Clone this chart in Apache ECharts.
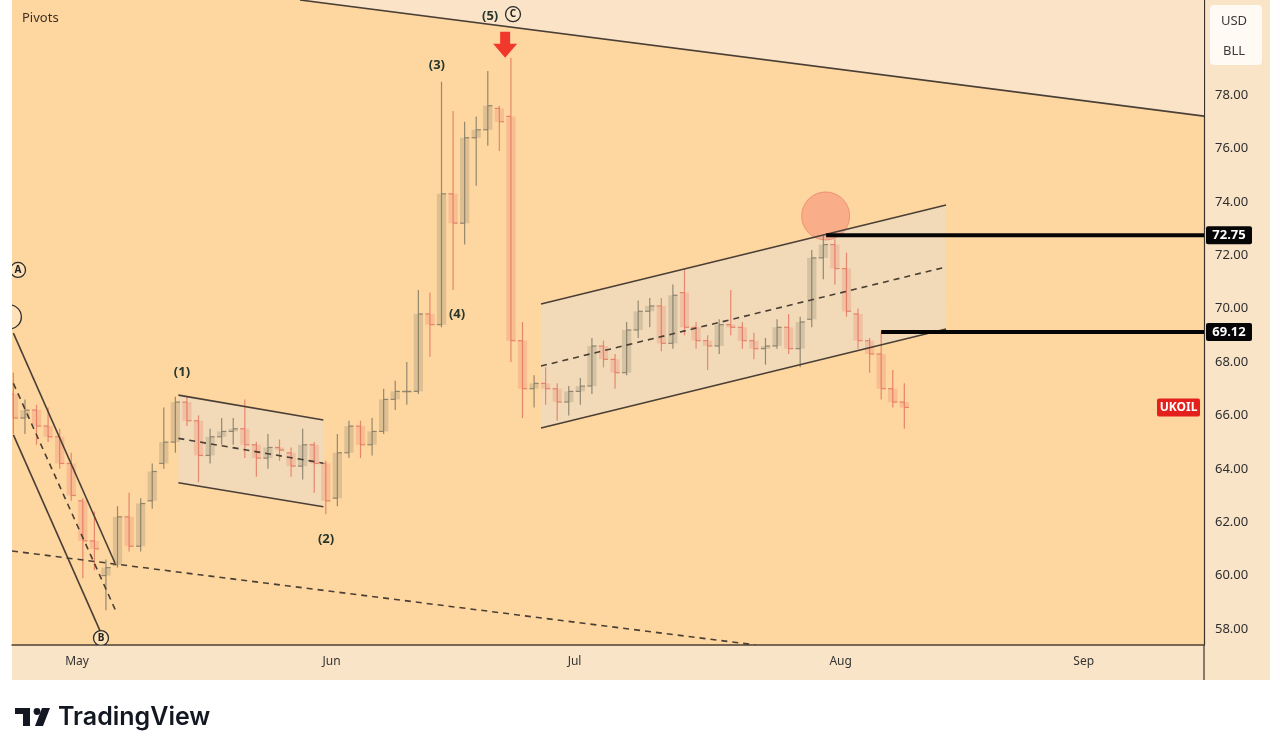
<!DOCTYPE html>
<html><head><meta charset="utf-8">
<script src="https://cdn.jsdelivr.net/npm/echarts@6/dist/echarts.min.js"></script>
<style>
html,body{margin:0;padding:0;background:#fff;width:1280px;height:754px;overflow:hidden}
#panel{position:absolute;left:12px;top:0;width:1258px;height:680px;background:#fae4c8}
#chart{position:absolute;left:0;top:0;width:1280px;height:754px}
</style></head><body>
<div id="panel"></div>
<div id="chart"></div>
<script>
// ---------- DATA ----------
const tradingDays = [
 '2025-04-23','2025-04-24','2025-04-25','2025-04-28','2025-04-29','2025-04-30',
 '2025-05-01','2025-05-02','2025-05-05','2025-05-06','2025-05-07','2025-05-08','2025-05-09','2025-05-12','2025-05-13','2025-05-14','2025-05-15','2025-05-16','2025-05-19','2025-05-20','2025-05-21','2025-05-22','2025-05-23','2025-05-26','2025-05-27','2025-05-28','2025-05-29','2025-05-30',
 '2025-06-02','2025-06-03','2025-06-04','2025-06-05','2025-06-06','2025-06-09','2025-06-10','2025-06-11','2025-06-12','2025-06-13','2025-06-16','2025-06-17','2025-06-18','2025-06-19','2025-06-20','2025-06-23','2025-06-24','2025-06-25','2025-06-26','2025-06-27','2025-06-30',
 '2025-07-01','2025-07-02','2025-07-03','2025-07-04','2025-07-07','2025-07-08','2025-07-09','2025-07-10','2025-07-11','2025-07-14','2025-07-15','2025-07-16','2025-07-17','2025-07-18','2025-07-21','2025-07-22','2025-07-23','2025-07-24','2025-07-25','2025-07-28','2025-07-29','2025-07-30','2025-07-31',
 '2025-08-01','2025-08-04','2025-08-05','2025-08-06','2025-08-07','2025-08-08'
];
const openP  = [66.8,65.9,66.2,65.6,65.2,64.2, 62.8,61.3,60.0,60.4,62.2,61.1,62.8,64.2,65.0,66.5,65.8,64.5,65.2,65.4,65.5,64.9,64.4,64.8,64.6,64.1,64.9,64.2, 62.9,64.6,65.6,64.9,65.4,66.6,66.9,66.9,69.8,69.4,74.3,73.2,76.4,76.7,77.5,77.2,68.8,67.0,67.2,67.0,66.5, 66.9,67.1,68.6,68.1,67.6,69.2,69.9,70.1,68.7,70.6,69.3,68.8,68.6,69.4,69.3,68.8,68.5,68.6,69.3,68.5,69.6,71.9,72.4, 71.5,69.8,68.8,68.3,67.0,66.5];
const highP  = [67.6,66.6,66.4,66.3,65.5,64.6, 62.9,62.4,60.6,62.6,63.1,62.9,64.2,66.3,66.7,66.7,66.0,65.5,65.9,65.9,66.6,65.0,65.3,65.1,64.8,65.5,65.0,64.3, 65.3,65.8,65.8,65.9,67.0,67.3,68.0,70.7,70.6,78.5,77.4,77.0,77.2,78.9,77.6,79.4,69.5,67.5,67.8,67.2,67.1, 67.4,68.9,68.8,68.3,69.5,70.3,70.4,70.4,70.9,71.5,69.5,69.0,69.6,70.7,69.5,69.1,68.9,69.6,69.8,69.7,72.2,72.75,72.6, 72.1,70.0,68.9,69.12,67.7,67.2];
const lowP   = [65.3,65.3,64.9,65.0,64.0,62.8, 59.9,60.2,58.7,60.3,60.9,60.9,62.5,64.0,64.6,65.6,63.5,64.2,64.9,64.9,64.4,63.7,64.0,64.3,63.7,63.6,63.1,62.3, 62.6,64.4,64.4,64.5,65.3,66.2,66.4,66.8,68.2,69.3,70.7,72.4,74.6,76.1,75.9,68.0,65.9,66.3,66.4,65.8,66.0, 66.4,66.8,67.8,67.0,67.5,68.9,69.3,68.4,68.5,69.0,68.5,67.7,68.3,69.0,68.5,68.1,67.9,68.5,68.3,67.8,69.3,71.1,70.9, 69.7,68.5,67.6,66.6,66.3,65.5];
const closeP = [65.9,66.2,65.6,65.2,64.2,63.0, 61.3,61.0,60.3,62.2,61.1,62.7,63.9,65.0,66.5,65.8,64.5,65.2,65.4,65.5,64.9,64.4,64.8,64.7,64.1,64.9,64.2,62.8, 64.6,65.6,64.9,65.4,66.6,66.9,66.9,69.8,69.4,74.3,73.2,76.4,76.7,77.6,77.0,68.8,67.0,67.2,67.0,66.5,66.9, 67.1,68.6,68.1,67.6,69.2,69.9,70.1,68.7,70.5,69.3,68.8,68.6,69.4,69.3,68.8,68.5,68.6,69.3,68.5,69.5,71.9,72.4,71.5, 69.9,68.8,68.3,67.0,66.5,66.3];
const firstDayIndex = -6;              // trading-day number of 2025-04-23 (2025-05-01 = 0)
const monthLabels = ['May','Jun','Jul','Aug','Sep'];
const monthStartIndex = [0, 22, 43, 66, 87];
const priceTicks = [58,60,62,64,66,68,70,72,74,76,78];
const symbolName = 'UKOIL';
const keyLevels = [72.75, 69.12];
const keyLevelStart = [64.74, 69.5];
// trendlines: [dayIndex1, price1, dayIndex2, price2]
const solidLines = [
 [19.27, 81.56, 97.4, 77.21],
 [-5.5, 69.08, 3.28, 60.47],
 [-5.5, 65.27, 1.99, 57.93],
 [8.76, 66.76, 21.29, 65.83],
 [8.76, 63.48, 21.29, 62.58],
 [40.10, 70.17, 75.11, 73.88],
 [40.10, 65.53, 75.11, 69.24]
];
const dashedLines = [
 [-5.5, 67.20, 3.43, 58.60],
 [-5.62, 60.92, 58.66, 57.40],
 [8.76, 65.14, 21.29, 64.21],
 [40.10, 67.85, 75.11, 71.56]
];
// channel fills: [dayIndex1, dayIndex2, top1, top2, bottom1, bottom2]
const channelFills = [
 [8.76, 21.29, 66.76, 65.83, 63.48, 62.58],
 [40.10, 75.11, 70.17, 73.88, 65.53, 69.24]
];
const upperZone = [[19.27, 81.56], [97.4, 77.21], [97.4, 82.5], [19.27, 82.5]];
const waveLabels = ['(1)','(2)','(3)','(4)','(5)'];
const wavePos = [[9.07,67.63],[21.52,61.37],[31.1,79.12],[32.84,69.80],[35.7,80.96]];
const circleLabels = ['A','B','C',''];
const circlePos = [[-5.1,71.45],[2.07,57.66],[37.68,81.03],[-5.85,69.69]];
const highlightPos = [[64.7, 73.47]];
const arrowPos = [[37.0, 79.4]];

// ---------- CHART ----------
const FONT = '"Noto Sans", "DejaVu Sans", sans-serif';
const X0 = -5.62, X1 = 97.4, Y0 = 57.40, Y1 = 81.56;
const LINE_COL = '#4a3f35';
const chart = echarts.init(document.getElementById('chart'), null, {renderer:'canvas'});

const barData = tradingDays.map((d, i) => [i + firstDayIndex, openP[i], highP[i], lowP[i], closeP[i]]);

function renderBar(params, api) {
  const x = api.value(0) + 0.5;
  const o = api.value(1), h = api.value(2), l = api.value(3), c = api.value(4);
  const ph = api.coord([x, h]), pl = api.coord([x, l]), po = api.coord([x, o]), pc = api.coord([x, c]);
  const w = api.size([1, 0])[0];
  const up = c >= o;
  const stroke = up ? 'rgba(122,116,98,0.8)' : 'rgba(226,114,94,0.8)';
  const fill = up ? 'rgba(132,126,106,0.26)' : 'rgba(232,126,104,0.28)';
  const bw = w * 0.8;
  return {type:'group', children:[
    {type:'rect', shape:{x:ph[0]-bw/2, y:Math.min(po[1],pc[1]), width:bw, height:Math.max(1.5, Math.abs(po[1]-pc[1]))}, style:{fill}},
    {type:'line', shape:{x1:ph[0], y1:ph[1], x2:pl[0], y2:pl[1]}, style:{stroke, lineWidth:1.2}},
    {type:'line', shape:{x1:po[0]-bw/2, y1:po[1], x2:po[0], y2:po[1]}, style:{stroke, lineWidth:1.2}},
    {type:'line', shape:{x1:pc[0], y1:pc[1], x2:pc[0]+bw/2, y2:pc[1]}, style:{stroke, lineWidth:1.2}}
  ]};
}
function lineRenderer(dashed) {
  return function(params, api) {
    const a = api.coord([api.value(0), api.value(1)]);
    const b = api.coord([api.value(2), api.value(3)]);
    return {type:'line', shape:{x1:a[0], y1:a[1], x2:b[0], y2:b[1]},
      style:{stroke:LINE_COL, lineWidth:1.6, lineDash: dashed ? [6,5] : null}};
  };
}
function renderFill(params, api) {
  const r = channelFills[params.dataIndex];
  const pts = [api.coord([r[0], r[2]]), api.coord([r[1], r[3]]), api.coord([r[1], r[5]]), api.coord([r[0], r[4]])];
  return {type:'polygon', shape:{points:pts}, style:{fill:'rgba(222,224,228,0.36)'}};
}
function renderZone(params, api) {
  return {type:'polygon', shape:{points: upperZone.map(p => api.coord(p))}, style:{fill:'#fbe3c7'}};
}
function renderWave(params, api) {
  const p = api.coord(wavePos[params.dataIndex]);
  return {type:'text', style:{x:p[0], y:p[1], text:waveLabels[params.dataIndex], fill:'#26362d',
    fontSize:13, fontWeight:'bold', fontFamily:FONT, align:'center', verticalAlign:'middle'}};
}
function renderCircleLabel(params, api) {
  const i = params.dataIndex;
  const p = api.coord(circlePos[i]);
  const r = circleLabels[i] ? 7.5 : 12;
  return {type:'group', children:[
    {type:'circle', shape:{cx:p[0], cy:p[1], r}, style:{fill:'rgba(255,236,205,0.5)', stroke:'#2b2b2b', lineWidth:1.3}},
    {type:'text', style:{x:p[0], y:p[1]+0.5, text:circleLabels[i], fill:'#222', fontSize:10, fontWeight:'bold',
      fontFamily:FONT, align:'center', verticalAlign:'middle'}}
  ]};
}
function renderHighlight(params, api) {
  const p = api.coord(highlightPos[params.dataIndex]);
  return {type:'circle', shape:{cx:p[0], cy:p[1], r:24}, style:{fill:'rgba(244,142,118,0.55)', stroke:'rgba(236,132,108,0.8)', lineWidth:1}};
}
function renderArrow(params, api) {
  const p = api.coord(arrowPos[params.dataIndex]);
  const x = p[0], y = p[1];
  return {type:'polygon', shape:{points:[[x-5,y-26],[x+5,y-26],[x+5,y-14],[x+12,y-14],[x,y],[x-12,y-14],[x-5,y-14]]},
    style:{fill:'#f0392c'}};
}
function renderLevel(params, api) {
  const i = params.dataIndex;
  const p = api.coord([keyLevelStart[i], keyLevels[i]]);
  const right = params.coordSys.x + params.coordSys.width;
  return {type:'group', children:[
    {type:'line', shape:{x1:p[0], y1:p[1], x2:right, y2:p[1]}, style:{stroke:'#050505', lineWidth:4}},
    {type:'rect', shape:{x:right+2, y:p[1]-9, width:46, height:18, r:2}, style:{fill:'#060606'}},
    {type:'text', style:{x:right+25, y:p[1]+0.5, text:keyLevels[i].toFixed(2), fill:'#fff', fontSize:13, fontWeight:'bold',
      fontFamily:FONT, align:'center', verticalAlign:'middle'}}
  ]};
}
function renderTag(params, api) {
  const p = api.coord([api.value(0), api.value(1)]);
  const right = params.coordSys.x + params.coordSys.width;
  return {type:'group', children:[
    {type:'rect', shape:{x:right-47, y:p[1]-9, width:43, height:18, r:2}, style:{fill:'#e3201b'}},
    {type:'text', style:{x:right-25.5, y:p[1]+0.5, text:symbolName, fill:'#fff', fontSize:12, fontWeight:'bold',
      fontFamily:FONT, align:'center', verticalAlign:'middle'}}
  ]};
}

const lastIdx = barData.length - 1;
const option = {
  animation: false,
  backgroundColor: 'transparent',
  textStyle: {fontFamily: FONT},
  grid: {left:12, top:0, width:1192, height:645, show:true, backgroundColor:'#fed6a0', borderWidth:0},
  xAxis: {
    type:'value', min:X0, max:X1,
    axisLine:{show:true, onZero:false, lineStyle:{color:'#4d3f33', width:1.5}},
    axisTick:{show:false}, splitLine:{show:false},
    axisLabel:{customValues: monthStartIndex, formatter: v => { const k = monthStartIndex.indexOf(v); return k >= 0 ? monthLabels[k] : ''; },
      color:'#333', fontSize:12, margin:11, fontFamily:FONT}
  },
  yAxis: {
    type:'value', position:'right', min:Y0, max:Y1,
    axisLine:{show:true, onZero:false, lineStyle:{color:'#3d332b', width:1.2}},
    axisTick:{show:false}, splitLine:{show:false},
    axisLabel:{customValues: priceTicks, formatter: v => Number(v).toFixed(2), color:'#2e2e2e', fontSize:13, margin:11, fontFamily:FONT}
  },
  graphic: [
    {type:'line', shape:{x1:1204, y1:645, x2:1204, y2:680}, style:{stroke:'#3d332b', lineWidth:1.2}},
    {type:'text', left:22, top:12, style:{text:'Pivots', fill:'#3d2f22', fontSize:13, fontFamily:FONT}},
    {type:'rect', shape:{x:1210, y:5, width:52, height:60, r:4}, style:{fill:'#fffaf4'}},
    {type:'text', style:{x:1234, y:21, text:'USD', fill:'#3a3a3a', fontSize:13, fontFamily:FONT, align:'center', verticalAlign:'middle'}},
    {type:'text', style:{x:1234, y:51, text:'BLL', fill:'#3a3a3a', fontSize:13, fontFamily:FONT, align:'center', verticalAlign:'middle'}},
    {type:'group', children:[
      {type:'rect', shape:{x:15, y:708, width:15, height:6}, style:{fill:'#131722'}},
      {type:'rect', shape:{x:23, y:708, width:7, height:18}, style:{fill:'#131722'}},
      {type:'circle', shape:{cx:37, cy:711.5, r:3.4}, style:{fill:'#131722'}},
      {type:'polygon', shape:{points:[[42,708],[50,708],[43,726],[35,726]]}, style:{fill:'#131722'}},
      {type:'text', style:{x:58, y:717, text:'TradingView', fill:'#131722', fontSize:25, fontWeight:600, fontFamily:'Inter, "Noto Sans", sans-serif', verticalAlign:'middle'}}
    ]}
  ],
  series: [
    {type:'custom', name:'zone', z:1, clip:true, data:[0], renderItem:renderZone, silent:true},
    {type:'custom', name:'fills', z:2, clip:true, data:channelFills.map(r => [r[0], r[2]]), renderItem:renderFill, silent:true},
    {type:'custom', name:'highlight', z:3, clip:true, data:highlightPos, renderItem:renderHighlight, silent:true},
    {type:'custom', name:'UKOIL', z:4, clip:true, data:barData, encode:{x:0, y:[1,2,3,4]}, renderItem:renderBar},
    {type:'custom', name:'solid', z:5, clip:true, data:solidLines, encode:{x:[0,2], y:[1,3]}, renderItem:lineRenderer(false), silent:true},
    {type:'custom', name:'dashed', z:5, clip:true, data:dashedLines, encode:{x:[0,2], y:[1,3]}, renderItem:lineRenderer(true), silent:true},
    {type:'custom', name:'levels', z:6, clip:false, data:keyLevels.map((v,i) => [keyLevelStart[i], v]), renderItem:renderLevel, silent:true},
    {type:'custom', name:'waves', z:7, clip:false, data:wavePos, renderItem:renderWave, silent:true},
    {type:'custom', name:'circles', z:7, clip:true, data:circlePos, renderItem:renderCircleLabel, silent:true},
    {type:'custom', name:'arrow', z:7, clip:false, data:arrowPos, renderItem:renderArrow, silent:true},
    {type:'custom', name:'tag', z:8, clip:false, data:[[barData[lastIdx][0], closeP[lastIdx]]], renderItem:renderTag, silent:true}
  ]
};
chart.setOption(option);
</script>
</body></html>
